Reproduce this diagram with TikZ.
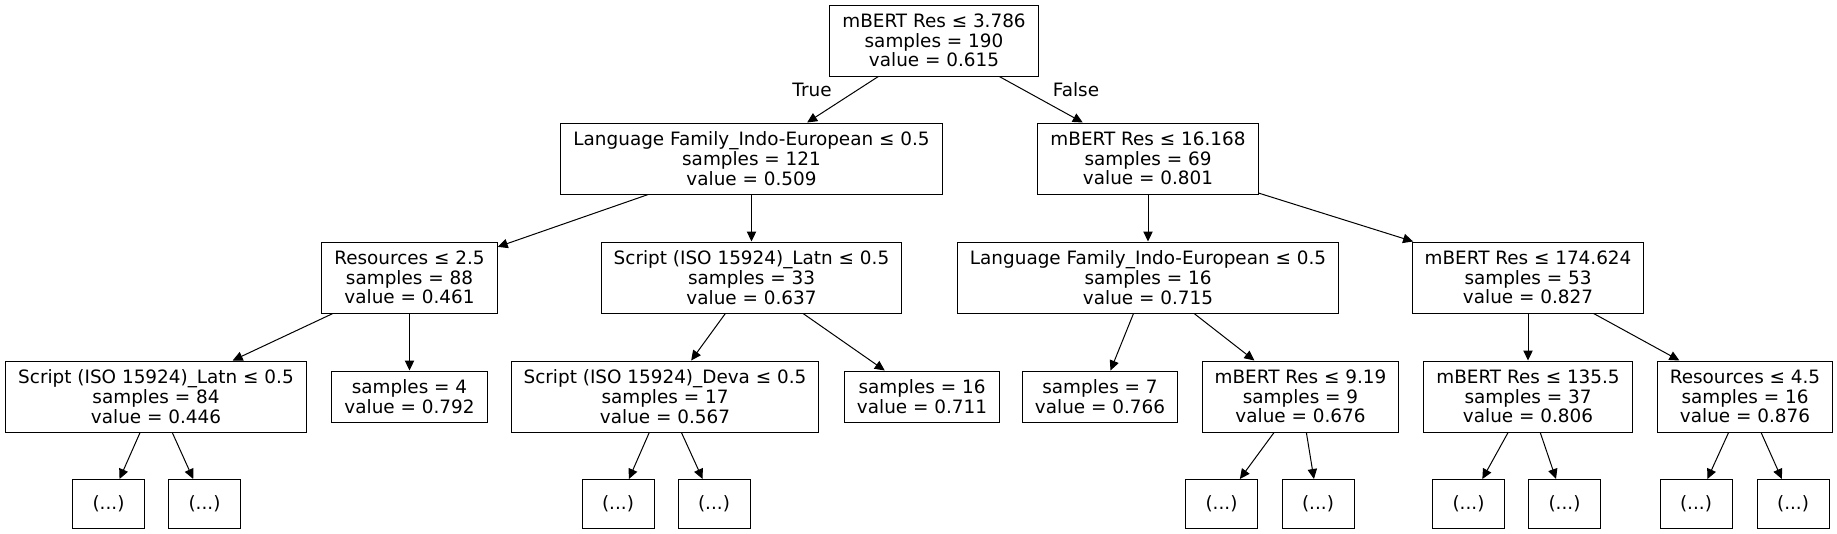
\documentclass[tikz,border=0pt]{standalone}
\usepackage{fontspec}
\setmainfont{DejaVu Sans}
\usetikzlibrary{arrows.meta}

\begin{document}
\begin{tikzpicture}[x=0.75pt,y=-0.75pt,
    every node/.style={font=\fontsize{13.8}{14.8}\selectfont},
    splitbox/.style={draw,line width=0.75pt,align=center,inner xsep=9.4pt,inner ysep=0pt,minimum height=53.25pt},
    leafbox/.style={draw,line width=0.75pt,align=center,inner xsep=9.4pt,inner ysep=0pt,minimum height=38.25pt},
    morebox/.style={draw,line width=0.75pt,inner sep=0pt,minimum width=54pt,minimum height=36.75pt},
    conn/.style={line width=0.75pt,-{Triangle[length=7.5pt,width=7pt]}}]
          \useasboundingbox (0,0) rectangle (1837,533);
          % depth 0 and 1
          \node[splitbox] (t0) at (934,40.5) {mBERT Res ≤ 3.786\\samples = 190\\value = 0.615};
          \node[splitbox] (t1) at (751.5,158.5) {Language Family\_Indo-European ≤ 0.5\\samples = 121\\value = 0.509};
          \node[splitbox] (t2) at (1148,158.5) {mBERT Res ≤ 16.168\\samples = 69\\value = 0.801};
          % depth 2
          \node[splitbox] (t3) at (409.5,277.5) {Resources ≤ 2.5\\samples = 88\\value = 0.461};
          \node[splitbox] (t4) at (751.5,277.5) {Script (ISO 15924)\_Latn ≤ 0.5\\samples = 33\\value = 0.637};
          \node[splitbox] (t5) at (1148,277.5) {Language Family\_Indo-European ≤ 0.5\\samples = 16\\value = 0.715};
          \node[splitbox] (t6) at (1528,277.5) {mBERT Res ≤ 174.624\\samples = 53\\value = 0.827};
          % depth 3
          \node[splitbox] (t7) at (156,396.5) {Script (ISO 15924)\_Latn ≤ 0.5\\samples = 84\\value = 0.446};
          \node[leafbox] (t8) at (409.5,396.5) {samples = 4\\value = 0.792};
          \node[splitbox] (t9) at (665,396.5) {Script (ISO 15924)\_Deva ≤ 0.5\\samples = 17\\value = 0.567};
          \node[leafbox] (t10) at (922,396.5) {samples = 16\\value = 0.711};
          \node[leafbox] (t11) at (1100,396.5) {samples = 7\\value = 0.766};
          \node[splitbox] (t12) at (1300.5,396.5) {mBERT Res ≤ 9.19\\samples = 9\\value = 0.676};
          \node[splitbox] (t13) at (1528,396.5) {mBERT Res ≤ 135.5\\samples = 37\\value = 0.806};
          \node[splitbox] (t14) at (1745,396.5) {Resources ≤ 4.5\\samples = 16\\value = 0.876};
          % depth 4
          \node[morebox] (t15) at (108.5,504) {(...)};
          \node[morebox] (t16) at (204.5,504) {(...)};
          \node[morebox] (t17) at (618,504) {(...)};
          \node[morebox] (t18) at (714,504) {(...)};
          \node[morebox] (t19) at (1221.5,504) {(...)};
          \node[morebox] (t20) at (1318,504) {(...)};
          \node[morebox] (t21) at (1468.5,504) {(...)};
          \node[morebox] (t22) at (1564.5,504) {(...)};
          \node[morebox] (t23) at (1696,504) {(...)};
          \node[morebox] (t24) at (1793,504) {(...)};
        \draw[conn] (t0) -- (t1);
        \draw[conn] (t0) -- (t2);
        \draw[conn] (t1) -- (t3);
        \draw[conn] (t1) -- (t4);
        \draw[conn] (t2) -- (t5);
        \draw[conn] (t2) -- (t6);
        \draw[conn] (t3) -- (t7);
        \draw[conn] (t3) -- (t8);
        \draw[conn] (t4) -- (t9);
        \draw[conn] (t4) -- (t10);
        \draw[conn] (t5) -- (t11);
        \draw[conn] (t5) -- (t12);
        \draw[conn] (t6) -- (t13);
        \draw[conn] (t6) -- (t14);
        \draw[conn] (t7) -- (t15);
        \draw[conn] (t7) -- (t16);
        \draw[conn] (t9) -- (t17);
        \draw[conn] (t9) -- (t18);
        \draw[conn] (t12) -- (t19);
        \draw[conn] (t12) -- (t20);
        \draw[conn] (t13) -- (t21);
        \draw[conn] (t13) -- (t22);
        \draw[conn] (t14) -- (t23);
        \draw[conn] (t14) -- (t24);
        \node (lt) at (812,90) {True};
        \node (lf) at (1076,90) {False};
        \end{tikzpicture}
\end{document}
